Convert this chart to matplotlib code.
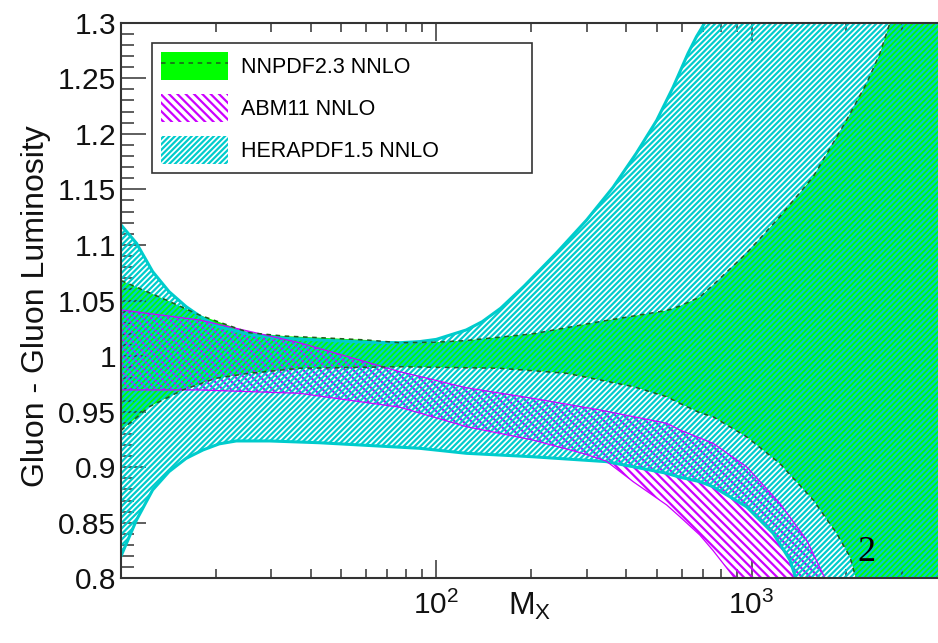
import numpy as np
import matplotlib
matplotlib.use("Agg")
import matplotlib.pyplot as plt
from matplotlib.patches import Patch
from matplotlib.lines import Line2D
from matplotlib.ticker import FixedLocator, LogLocator, NullFormatter, LogFormatterSciNotation, MultipleLocator, FuncFormatter

plt.rcParams['font.family'] = ['Liberation Sans', 'DejaVu Sans']
plt.rcParams['mathtext.fontset'] = 'custom'
plt.rcParams['mathtext.rm'] = 'Liberation Sans'
plt.rcParams['mathtext.it'] = 'Liberation Sans:italic'
plt.rcParams['mathtext.bf'] = 'Liberation Sans:bold'
plt.rcParams['hatch.linewidth'] = 1.6

# ---------------- data ----------------
# NNPDF2.3 NNLO band
nn_up_m = [10, 13.9, 17.7, 25.5, 33, 43, 60, 76.5, 100, 124.5, 202, 330, 538, 592, 685, 755, 964, 1229, 1569, 2002, 2317, 2555, 2748, 4000]
nn_up = [1.068, 1.0505, 1.037, 1.021, 1.018, 1.0165, 1.0145, 1.012, 1.0125, 1.014, 1.02, 1.031, 1.041, 1.045, 1.053, 1.064, 1.0925, 1.1254, 1.1614, 1.2124, 1.2455, 1.2725, 1.3, 1.6]
nn_lo_m = [10, 12.3, 13.9, 15.7, 20, 25.5, 36.8, 76.5, 159, 259, 421, 538, 592, 685, 755, 964, 1229, 1569, 1861, 2051, 2143, 2500, 4000]
nn_lo = [0.933, 0.9544, 0.962, 0.9695, 0.98, 0.9845, 0.989, 0.9904, 0.989, 0.9845, 0.9725, 0.9634, 0.9575, 0.949, 0.9454, 0.9274, 0.9034, 0.8705, 0.8405, 0.8195, 0.8, 0.75, 0.5]

# ABM11 NNLO band
abm_up_m = [10, 17.7, 36.8, 76.5, 124.5, 202, 330, 538, 592, 755, 964, 1229, 1495, 1709, 2000, 4000]
abm_up = [1.0415, 1.0325, 1.012, 0.986, 0.9715, 0.962, 0.9515, 0.9395, 0.9335, 0.9215, 0.9004, 0.8675, 0.8345, 0.8, 0.75, 0.5]
abm_lo_m = [10, 17.7, 36.8, 76.5, 124.5, 202, 291, 346, 421, 538, 592, 685, 755, 885, 1000, 4000]
abm_lo = [0.9695, 0.9695, 0.9665, 0.954, 0.9365, 0.9245, 0.9125, 0.9055, 0.887, 0.866, 0.8555, 0.839, 0.825, 0.8, 0.77, 0.5]

# HERAPDF1.5 NNLO band
hera_up_m = [10, 11.2, 12.6, 14.2, 16.1, 18.2, 20.5, 26.2, 33.4, 42.6, 60, 76.5, 88.5, 100, 124.5, 140, 160, 190, 240, 300, 364, 431, 500, 564, 629, 669, 711, 850, 4000]
hera_up = [1.118, 1.1015, 1.076, 1.058, 1.0444, 1.034, 1.0264, 1.019, 1.016, 1.0145, 1.0125, 1.012, 1.013, 1.015, 1.0235, 1.031, 1.043, 1.063, 1.0925, 1.1225, 1.152, 1.1825, 1.212, 1.242, 1.2725, 1.2875, 1.3, 1.37, 2.0]
hera_lo_m = [10, 11.2, 12.6, 14.2, 16.1, 18.2, 20.5, 23.2, 29.6, 42.6, 88.5, 124.5, 202, 346, 421, 538, 592, 685, 755, 964, 1171, 1323, 1382, 1600, 4000]
hera_lo = [0.82, 0.8525, 0.8795, 0.896, 0.908, 0.9155, 0.921, 0.9236, 0.9236, 0.922, 0.917, 0.9125, 0.9094, 0.905, 0.9004, 0.8945, 0.891, 0.887, 0.8824, 0.8644, 0.8405, 0.8165, 0.8, 0.76, 0.5]

labels = ["NNPDF2.3 NNLO", "ABM11 NNLO", "HERAPDF1.5 NNLO"]
y_ticks = [0.8, 0.85, 0.9, 0.95, 1.0, 1.05, 1.1, 1.15, 1.2, 1.25, 1.3]
x_major = [100, 1000]

GREEN = '#00FF00'
DGREEN = '#1E5A1E'
MAGENTA = '#CC00FF'
CYAN = '#00CCCC'
HATCH_ABM = '\\\\\\\\'
HATCH_HERA = '//////'

# ---------------- figure ----------------
W, H = 938, 643
fig = plt.figure(figsize=(W / 100, H / 100), dpi=100)
ax_l, ax_r, ax_t, ax_b = 121, 938, 22.7, 578.3
ax = fig.add_axes([ax_l / W, 1 - ax_b / H, (ax_r - ax_l) / W, (ax_b - ax_t) / H])
ax.set_xscale('log')
ax.set_xlim(10, 3903)
ax.set_ylim(0.8, 1.3)


def band(up_m, up, lo_m, lo):
    xs = np.concatenate([up_m, lo_m[::-1]])
    ys = np.concatenate([up, lo[::-1]])
    return xs, ys


# NNPDF solid green
xs, ys = band(nn_up_m, nn_up, nn_lo_m, nn_lo)
ax.fill(xs, ys, facecolor=GREEN, edgecolor='none', linewidth=0, zorder=1)

# ABM hatched magenta
xs, ys = band(abm_up_m, abm_up, abm_lo_m, abm_lo)
ax.fill(xs, ys, facecolor='none', edgecolor=MAGENTA, hatch=HATCH_ABM, linewidth=0, zorder=2)

# HERAPDF hatched cyan
xs, ys = band(hera_up_m, hera_up, hera_lo_m, hera_lo)
ax.fill(xs, ys, facecolor='none', edgecolor=CYAN, hatch=HATCH_HERA, linewidth=0, zorder=3)

# boundaries
ax.plot(hera_up_m, hera_up, color=CYAN, lw=2.2, zorder=4)
ax.plot(hera_lo_m, hera_lo, color=CYAN, lw=2.2, zorder=4)
ax.plot(abm_up_m, abm_up, color=MAGENTA, lw=0.9, zorder=4)
ax.plot(abm_lo_m, abm_lo, color=MAGENTA, lw=0.9, zorder=4)
ax.plot(nn_up_m, nn_up, color=DGREEN, lw=1.1, ls=(0, (3, 3)), zorder=5)
ax.plot(nn_lo_m, nn_lo, color=DGREEN, lw=1.1, ls=(0, (3, 3)), zorder=5)

# axes styling
for s in ['left', 'bottom', 'top']:
    ax.spines[s].set_color('#333333')
    ax.spines[s].set_linewidth(1.5)
    ax.spines[s].set_zorder(6)
ax.spines['right'].set_visible(False)

ax.xaxis.set_major_locator(FixedLocator(x_major))
ax.xaxis.set_major_formatter(LogFormatterSciNotation())
ax.xaxis.set_minor_locator(LogLocator(base=10, subs=np.arange(2, 10)))
ax.xaxis.set_minor_formatter(NullFormatter())
ax.yaxis.set_major_locator(FixedLocator(y_ticks))
ax.yaxis.set_major_formatter(FuncFormatter(lambda v, p: '%g' % round(v, 3)))
ax.yaxis.set_minor_locator(MultipleLocator(0.01))

ax.tick_params(which='both', direction='in', top=True, right=False, colors='#333333',
               labelcolor='#111111', width=1.1, labelsize=21.5)
ax.tick_params(axis='x', which='major', length=13, pad=9)
ax.tick_params(axis='x', which='minor', length=6.5)
ax.tick_params(axis='y', which='major', length=18, pad=3.5)
ax.tick_params(axis='y', which='minor', length=9.5)

ax.set_ylabel('Gluon - Gluon Luminosity', fontsize=23, color='#111111')
ax.yaxis.set_label_coords(-0.086, 0.49)
ax.set_xlabel(r'$\mathrm{M_X}$', fontsize=23, color='#111111', va='top')
ax.xaxis.set_label_coords(0.5, -0.022)

ax.text(2317, 0.8234, '2', fontsize=26, family='Liberation Serif', ha='center', va='center',
        color='black', zorder=7)

# legend
h_nn = (Patch(facecolor=GREEN, edgecolor='none'), Line2D([], [], color=DGREEN, lw=1.1, ls=(0, (3, 3))))
h_abm = Patch(facecolor='white', edgecolor=MAGENTA, hatch=HATCH_ABM, linewidth=0)
h_hera = Patch(facecolor='white', edgecolor=CYAN, hatch=HATCH_HERA, linewidth=0)
leg = ax.legend([h_nn, h_abm, h_hera], labels, loc='upper left', mode='expand',
                bbox_to_anchor=(0.0376, 0.0, 0.4651, 0.964), borderaxespad=0,
                fontsize=15.5, handlelength=3.1, handleheight=1.6, labelspacing=0.66,
                borderpad=0.45, handletextpad=0.62, fancybox=False, framealpha=1,
                edgecolor='#333333')
leg.get_frame().set_linewidth(1.2)
leg.set_zorder(10)

fig.savefig('out.png', dpi=100)
